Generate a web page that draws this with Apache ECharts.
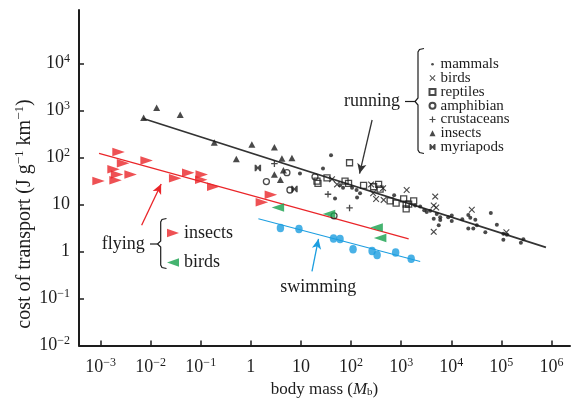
<!DOCTYPE html>
<html>
<head>
<meta charset="utf-8">
<script src="https://cdn.jsdelivr.net/npm/echarts@6/dist/echarts.min.js"></script>
<style>
  html, body { margin: 0; padding: 0; background: #fff; }
  #chart { width: 575px; height: 403px; }
</style>
</head>
<body>
<div id="chart"></div>
<script>
// all values are log10: [log10 body mass, log10 cost of transport]
const xTicks = [-3, -2, -1, 0, 1, 2, 3, 4, 5, 6];
const yTicks = [-2, -1, 0, 1, 2, 3, 4];

const flyingInsects = [[-2.64, 2.12], [-2.55, 1.88], [-2.74, 1.75], [-2.67, 1.64], [-2.40, 1.64],
  [-3.04, 1.50], [-2.70, 1.52], [-2.08, 1.94], [-1.51, 1.56], [-1.25, 1.68], [-0.98, 1.64],
  [-0.99, 1.53], [-0.75, 1.38], [0.40, 1.21], [0.22, 1.05]];
const flyingBirds = [[0.54, 0.94], [1.56, 0.80], [2.51, 0.51], [2.58, 0.29]];
const swimming = [[0.59, 0.50], [0.96, 0.48], [1.65, 0.28], [1.78, 0.27], [2.04, 0.05],
  [2.42, 0.01], [2.52, -0.07], [2.89, -0.02], [3.20, -0.15]];

const runInsects = [[-1.88, 3.06], [-2.14, 2.85], [-1.41, 2.91], [-0.73, 2.32], [0.02, 2.28],
  [-0.29, 1.97], [0.47, 2.22], [0.62, 1.98], [0.82, 1.99], [0.65, 1.73], [0.47, 1.64], [0.59, 1.53]];
const runCrustaceans = [[0.47, 1.87], [1.54, 1.22], [1.97, 0.93]];
const runMyriapods = [[0.14, 1.78], [0.87, 1.33]];
const runAmphibian = [[0.31, 1.49], [0.72, 1.68], [0.78, 1.31], [1.28, 1.59], [1.66, 0.76]];
const runReptiles = [[1.97, 1.89], [1.32, 1.50], [1.34, 1.45], [1.52, 1.57], [1.88, 1.50],
  [1.95, 1.45], [2.25, 1.41], [2.45, 1.38], [2.55, 1.43], [2.58, 1.33], [2.78, 1.08],
  [2.90, 1.03], [3.05, 1.12], [3.10, 1.01], [3.15, 1.01], [3.25, 1.08], [3.10, 0.91]];
const runBirds = [[1.62, 1.54], [1.72, 1.43], [2.40, 1.43], [2.64, 1.35], [2.44, 1.24],
  [2.50, 1.12], [2.65, 1.10], [3.11, 1.31], [3.68, 1.17], [3.65, 0.98], [3.70, 0.94],
  [3.65, 0.42], [4.41, 0.89], [5.10, 0.41]];
const runMammals = [[1.60, 2.05], [1.44, 1.77], [0.98, 1.66], [1.68, 1.13], [2.11, 1.31],
  [2.12, 1.15], [1.78, 1.41], [2.02, 1.36], [3.28, 0.98], [3.51, 0.84], [3.58, 0.87],
  [3.71, 0.80], [3.78, 0.73], [3.65, 0.70], [3.78, 0.67], [3.75, 0.56], [4.01, 0.77],
  [4.01, 0.65], [4.34, 0.78], [4.38, 0.72], [4.48, 0.68], [4.34, 0.49], [4.44, 0.49],
  [4.51, 0.56], [4.68, 0.41], [4.79, 0.82], [4.91, 0.57], [5.04, 0.38], [5.04, 0.25],
  [5.11, 0.36], [5.39, 0.19], [5.44, 0.26], [1.84, 1.36], [2.18, 1.24], [2.86, 1.20],
  [3.38, 0.96], [3.46, 0.88], [3.94, 0.73], [4.22, 0.69]];

// fitted lines (end points)
const runningFit = [[-2.15, 2.83], [5.89, 0.09]];
const flyingFit = [[-3.03, 2.09], [3.15, 0.27]];
const swimmingFit = [[0.15, 0.70], [3.38, -0.21]];
// annotation arrows (from, to)
const runningArrow = [[2.42, 2.80], [2.17, 1.66]];
const flyingArrow = [[-2.18, 0.56], [-1.79, 1.44]];
const swimmingArrow = [[1.22, -0.42], [1.35, 0.27]];

const FONT = 'Liberation Serif';
const INK = '#1d1d1d';
const RED = '#ea2529';
const GREEN = '#16a04c';
const BLUE = '#1c9ee0';

const crossPath = 'path://M0,1.2L1.2,0L5,3.8L8.8,0L10,1.2L6.2,5L10,8.8L8.8,10L5,6.2L1.2,10L0,8.8L3.8,5Z';
const plusPath = 'path://M4,0H6V4H10V6H6V10H4V6H0V4H4Z';
const bowtiePath = 'path://M0,0L2.2,0L5,3.6L7.8,0L10,0L10,10L7.8,10L5,6.4L2.2,10L0,10Z';
const dotIcon = 'path://M0,0L0,0M10,10L10,10M2.8,5a2.2,2.2 0 1,0 4.4,0a2.2,2.2 0 1,0 -4.4,0Z';
const rightTri = 'path://M0,0L12,4.2L0,8.4Z';
const leftTri = 'path://M12,0L0,4.2L12,8.4Z';

function powLabel(v) {
  if (v === 0) return '{b|1}';
  if (v === 1) return '{b|10}';
  return '{b|10}{s|' + (v < 0 ? '\u2212' + (-v) : v) + '}';
}

const labelRich = {
  b: { fontFamily: FONT, fontSize: 18, color: INK, lineHeight: 21 },
  s: { fontFamily: FONT, fontSize: 12, color: INK, verticalAlign: 'top', lineHeight: 14 }
};

function scatter(name, data, symbol, size, itemStyle, rotate) {
  return {
    name: name, type: 'scatter', data: data, symbol: symbol, symbolSize: size,
    symbolRotate: rotate || 0, itemStyle: itemStyle, z: 3, silent: true
  };
}
function fit(data, color, width, arrow) {
  return {
    type: 'line', data: data, symbol: 'none', silent: true, z: 2,
    lineStyle: { color: color, width: width },
    markLine: {
      silent: true, symbol: ['none', 'arrow'], symbolSize: [7, 10],
      label: { show: false },
      lineStyle: { color: color, width: 1.3, type: 'solid' },
      data: [[{ coord: arrow[0] }, { coord: arrow[1] }]]
    }
  };
}

const hollow = { color: 'transparent', borderColor: INK, borderWidth: 1.3 };
const solid = { color: INK };

const chart = echarts.init(document.getElementById('chart'), null, { renderer: 'canvas' });
chart.setOption({
  animation: false,
  backgroundColor: '#fff',
  grid: { left: 79, right: 5, top: 10, bottom: 54 },
  xAxis: {
    type: 'value', min: -3.43, max: 6.37,
    name: '{n|body mass (}{i|M}{sub|b}{n|)}',
    nameLocation: 'middle', nameGap: 29,
    nameTextStyle: {
      rich: {
        n: { fontFamily: FONT, fontSize: 17, color: INK },
        i: { fontFamily: FONT, fontSize: 17, color: INK, fontStyle: 'italic' },
        sub: { fontFamily: FONT, fontSize: 11, color: INK, verticalAlign: 'bottom' }
      }
    },
    splitLine: { show: false },
    axisLine: { onZero: false, lineStyle: { color: INK, width: 2 } },
    axisTick: { inside: true, length: 5, customValues: xTicks, lineStyle: { color: INK, width: 1.5 } },
    axisLabel: { customValues: xTicks, margin: 11, formatter: powLabel, rich: labelRich }
  },
  yAxis: {
    type: 'value', min: -2, max: 5.14,
    splitLine: { show: false },
    axisLine: { onZero: false, lineStyle: { color: INK, width: 2 } },
    axisTick: { inside: true, length: 5, customValues: yTicks, lineStyle: { color: INK, width: 1.5 } },
    axisLabel: { customValues: yTicks, margin: 9, formatter: powLabel, rich: labelRich }
  },
  legend: [{
    orient: 'vertical', left: 428.5, top: 56.8, padding: 0,
    itemWidth: 6, itemHeight: 6, itemGap: -1.2,
    selectedMode: false,
    textStyle: { fontFamily: FONT, fontSize: 15, color: INK, lineHeight: 13.8 },
    formatter: function (n) { return n.split(' ')[1]; },
    data: [
      { name: 'run mammals', icon: dotIcon },
      { name: 'run birds' },
      { name: 'run reptiles' },
      { name: 'run amphibian' },
      { name: 'run crustaceans' },
      { name: 'run insects' },
      { name: 'run myriapods' }
    ]
  }, {
    orient: 'vertical', left: 167, top: 224, padding: 0,
    itemWidth: 12, itemHeight: 9, itemGap: 11.5,
    selectedMode: false,
    textStyle: { fontFamily: FONT, fontSize: 18, color: INK, lineHeight: 18 },
    formatter: function (n) { return n.split(' ')[1]; },
    data: [
      { name: 'fly insects', icon: rightTri },
      { name: 'fly birds', icon: leftTri }
    ]
  }],
  graphic: [
    {
      type: 'text', x: 25, y: 214, rotation: Math.PI / 2,
      style: {
        text: '{n|cost of transport (J g}{s|\u22121}{n| km}{s|\u22121}{n|)}',
        align: 'center', verticalAlign: 'middle',
        rich: {
          n: { fontFamily: FONT, fontSize: 20, fill: INK, lineHeight: 23 },
          s: { fontFamily: FONT, fontSize: 13, fill: INK, verticalAlign: 'top', lineHeight: 15 }
        }
      }
    },
    { type: 'text', x: 372, y: 101, style: { text: 'running', font: '18px "Liberation Serif"', fill: INK, align: 'center', verticalAlign: 'middle' } },
    { type: 'text', x: 123.3, y: 244, style: { text: 'flying', font: '18px "Liberation Serif"', fill: INK, align: 'center', verticalAlign: 'middle' } },
    { type: 'text', x: 318.3, y: 287.3, style: { text: 'swimming', font: '18px "Liberation Serif"', fill: INK, align: 'center', verticalAlign: 'middle' } },
    {
      type: 'polyline', silent: true,
      shape: { points: [[424, 48.5], [419.5, 49.5], [418, 52], [418, 98], [415, 101.5], [418, 105], [418, 150], [419.5, 152.5], [424, 153.5]] },
      style: { stroke: INK, lineWidth: 1.2, fill: null }
    },
    { type: 'line', silent: true, shape: { x1: 405, y1: 101.5, x2: 415, y2: 101.5 }, style: { stroke: INK, lineWidth: 1.2 } },
    {
      type: 'polyline', silent: true,
      shape: { points: [[166.5, 218.5], [162, 219.5], [160.7, 222], [160.7, 241], [157.5, 244], [160.7, 247], [160.7, 265], [162, 267.5], [166.5, 268.5]] },
      style: { stroke: INK, lineWidth: 1.2, fill: null }
    },
    { type: 'line', silent: true, shape: { x1: 150, y1: 244, x2: 157.5, y2: 244 }, style: { stroke: INK, lineWidth: 1.2 } }
  ],
  series: [
    fit(runningFit, '#333', 1.6, runningArrow),
    fit(flyingFit, RED, 1.1, flyingArrow),
    fit(swimmingFit, BLUE, 1.1, swimmingArrow),
    scatter('run mammals', runMammals, 'circle', 4, solid),
    scatter('run birds', runBirds, crossPath, 6.5, solid),
    scatter('run reptiles', runReptiles, 'rect', 6, hollow),
    scatter('run amphibian', runAmphibian, 'circle', 6, hollow),
    scatter('run crustaceans', runCrustaceans, plusPath, 6.5, solid),
    scatter('run insects', runInsects, 'triangle', [7, 6.5], solid),
    scatter('run myriapods', runMyriapods, bowtiePath, 6.5, solid),
    scatter('fly insects', flyingInsects, 'triangle', [8.5, 12.5], { color: RED }, -90),
    scatter('fly birds', flyingBirds, 'triangle', [8.5, 12.5], { color: GREEN }, 90),
    scatter('swimming', swimming, 'circle', [7.5, 8.5], { color: BLUE })
  ]
});
</script>
</body>
</html>
